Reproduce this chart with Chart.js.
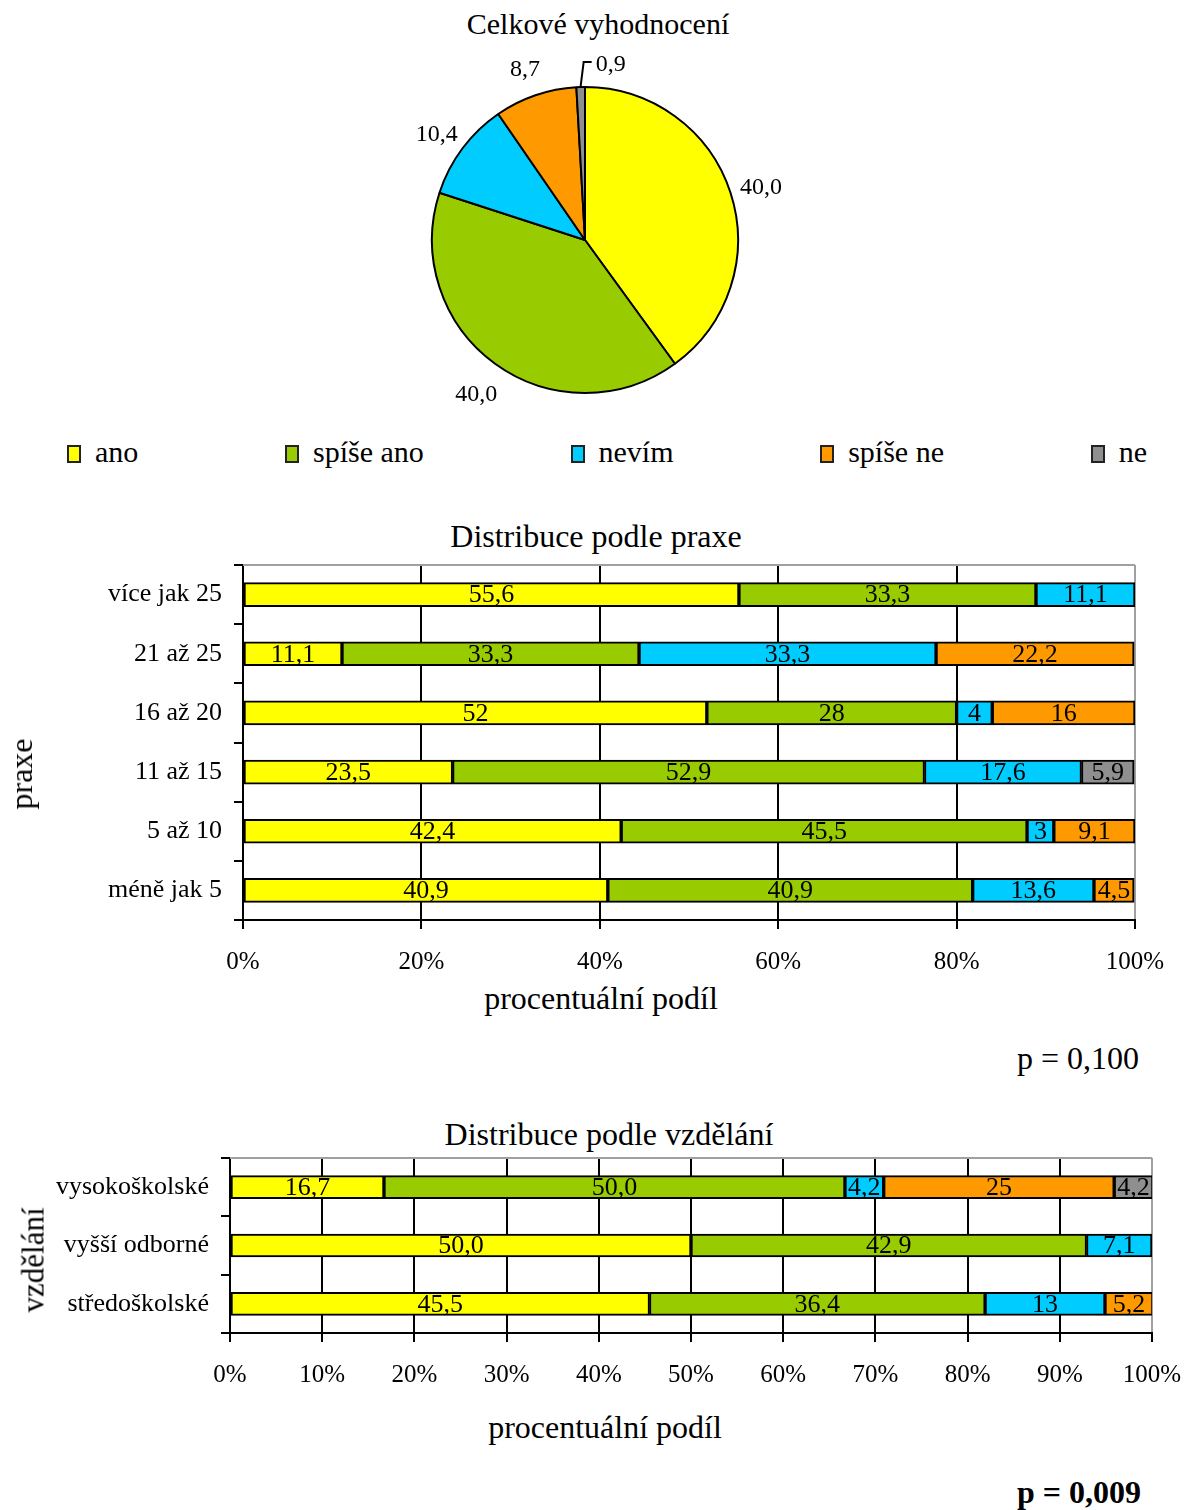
<!DOCTYPE html>
<html>
<head>
<meta charset="utf-8">
<script src="https://cdn.jsdelivr.net/npm/chart.js@4.4.1/dist/chart.umd.min.js"></script>
<style>
  body { margin: 0; background: #fff; }
  #page { position: relative; width: 1185px; height: 1510px; font-family: 'Liberation Serif', 'Times New Roman', serif; color: #000; }
  canvas { position: absolute; }
  .txt { position: absolute; transform: translate(-50%, -50%); white-space: nowrap; line-height: 1; }
  .rot { transform: translate(-50%, -50%) rotate(-90deg); }
  .right { transform: translate(-100%, -50%); }
  #legend { position: absolute; left: 67px; top: 436px; width: 1080px; display: flex; justify-content: space-between; font-size: 30px; line-height: 32px; }
  #legend span.box { display: inline-block; width: 14px; height: 18px; border: 2px solid #222; margin-right: 14px; vertical-align: -1px; box-sizing: border-box; }
</style>
</head>
<body>
<div id="page">
  <div class="txt" style="left:598px; top:24px; font-size:30px;">Celkové vyhodnocení</div>
  <canvas id="pie" width="600" height="420" style="left:285px; top:0;"></canvas>
  <div id="legend"></div>

  <div class="txt" style="left:596px; top:536px; font-size:32px;">Distribuce podle praxe</div>
  <canvas id="praxe" width="1185" height="480" style="left:0; top:500px;"></canvas>
  <div class="txt rot" style="left:21px; top:774px; font-size:32px;">praxe</div>
  <div class="txt" style="left:601px; top:998px; font-size:32px;">procentuální podíl</div>
  <div class="txt right" style="left:1139px; top:1058px; font-size:32px;">p = 0,100</div>

  <div class="txt" style="left:609px; top:1134px; font-size:32px;">Distribuce podle vzdělání</div>
  <canvas id="vzdelani" width="1185" height="300" style="left:0; top:1100px;"></canvas>
  <div class="txt rot" style="left:33px; top:1260px; font-size:31px;">vzdělání</div>
  <div class="txt" style="left:605px; top:1427px; font-size:32px;">procentuální podíl</div>
  <div class="txt right" style="left:1141px; top:1492px; font-size:32px; font-weight:bold;">p = 0,009</div>
</div>
<script>
// answers and colours shared by all three charts
const series = ['ano', 'spíše ano', 'nevím', 'spíše ne', 'ne'];
const colors = ['#ffff00', '#99cc00', '#00ccff', '#ff9900', '#8f8f8f'];

// overall pie
const overall = [40.0, 40.0, 10.4, 8.7, 0.9];

// by years of practice
const praxeCategories = ['více jak 25', '21 až 25', '16 až 20', '11 až 15', '5 až 10', 'méně jak 5'];
const praxeAno = [55.6, 11.1, 52, 23.5, 42.4, 40.9];
const praxeSpiseAno = [33.3, 33.3, 28, 52.9, 45.5, 40.9];
const praxeNevim = [11.1, 33.3, 4, 17.6, 3, 13.6];
const praxeSpiseNe = [0, 22.2, 16, 0, 9.1, 4.5];
const praxeNe = [0, 0, 0, 5.9, 0, 0];

// by education
const vzdelaniCategories = ['vysokoškolské', 'vyšší odborné', 'středoškolské'];
const vzdelaniAno = [16.7, 50.0, 45.5];
const vzdelaniSpiseAno = [50.0, 42.9, 36.4];
const vzdelaniNevim = [4.2, 7.1, 13];
const vzdelaniSpiseNe = [25, 0, 5.2];
const vzdelaniNe = [4.2, 0, 0];

// number of decimals shown per series (null = as is)
const praxeDecimals = [null, null, null, null, null];
const vzdelaniDecimals = [1, 1, null, null, null];

const FONT = "'Liberation Serif', 'Times New Roman', serif";
Chart.defaults.font.family = FONT;
Chart.defaults.color = '#000';
Chart.defaults.animation = false;

function fmt(v, decimals) {
    const s = decimals == null ? String(v) : v.toFixed(decimals);
    return s.replace('.', ',');
}

// legend
const legend = document.getElementById('legend');
series.forEach((name, i) => {
    const item = document.createElement('div');
    item.innerHTML = '<span class="box" style="background:' + colors[i] + '"></span>' + name;
    legend.appendChild(item);
});

// value labels inside bar segments
const barLabels = {
    id: 'barLabels',
    afterDatasetsDraw(chart) {
        const ctx = chart.ctx;
        ctx.save();
        ctx.font = '26px ' + FONT;
        ctx.fillStyle = '#000';
        ctx.textAlign = 'center';
        ctx.textBaseline = 'middle';
        chart.data.datasets.forEach((ds, i) => {
            chart.getDatasetMeta(i).data.forEach((el, j) => {
                const v = ds.data[j];
                if (!v) return;
                const p = el.getProps(['x', 'y', 'base'], true);
                ctx.fillText(fmt(v, ds.decimals), (p.x + p.base) / 2, p.y + 1);
            });
        });
        ctx.restore();
    }
};

// grey frame line on top of the plot area
const topFrame = {
    id: 'topFrame',
    afterDraw(chart) {
        const a = chart.chartArea, ctx = chart.ctx;
        ctx.save();
        ctx.strokeStyle = '#a0a0a0';
        ctx.lineWidth = 2;
        ctx.beginPath();
        ctx.moveTo(a.left, a.top);
        ctx.lineTo(a.right, a.top);
        ctx.stroke();
        ctx.restore();
    }
};

function makeBarChart(id, categories, data, decimals, o) {
    new Chart(document.getElementById(id), {
        type: 'bar',
        data: {
            labels: categories,
            datasets: data.map((d, i) => ({
                label: series[i],
                data: d,
                decimals: decimals[i],
                backgroundColor: colors[i],
                borderColor: '#000',
                borderWidth: 2,
                borderSkipped: false,
                barThickness: o.thickness
            }))
        },
        options: {
            indexAxis: 'y',
            responsive: false,
            layout: { padding: o.padding },
            plugins: { legend: { display: false }, tooltip: { enabled: false } },
            scales: {
                x: {
                    stacked: true,
                    min: 0,
                    max: 100,
                    afterFit: s => { s.height = o.xHeight; s.paddingLeft = 0; s.paddingRight = 0; },
                    ticks: { stepSize: o.step, font: { size: 25 }, padding: o.tickPad, callback: v => v + '%' },
                    grid: {
                        color: c => (c.tick && c.tick.value === 100) ? '#a0a0a0' : '#000',
                        tickColor: '#000',
                        lineWidth: 2,
                        tickLength: 9
                    },
                    border: { color: '#000', width: 2 }
                },
                y: {
                    stacked: true,
                    afterFit: s => { s.width = o.yWidth; },
                    ticks: { font: { size: 26 }, padding: 12 },
                    grid: { drawOnChartArea: false, color: '#000', lineWidth: 2, tickLength: 9 },
                    border: { color: '#000', width: 2 }
                }
            }
        },
        plugins: [barLabels, topFrame]
    });
}

makeBarChart('praxe', praxeCategories,
    [praxeAno, praxeSpiseAno, praxeNevim, praxeSpiseNe, praxeNe], praxeDecimals,
    { thickness: 24, step: 20, yWidth: 243, xHeight: 60, tickPad: 18, padding: { left: 0, right: 50, top: 65, bottom: 0 } });

makeBarChart('vzdelani', vzdelaniCategories,
    [vzdelaniAno, vzdelaniSpiseAno, vzdelaniNevim, vzdelaniSpiseNe, vzdelaniNe], vzdelaniDecimals,
    { thickness: 23, step: 10, yWidth: 230, xHeight: 67, tickPad: 18, padding: { left: 0, right: 33, top: 58, bottom: 0 } });

// labels around the pie
const pieLabels = {
    id: 'pieLabels',
    afterDatasetsDraw(chart) {
        const ctx = chart.ctx;
        const ds = chart.data.datasets[0];
        ctx.save();
        ctx.font = '24px ' + FONT;
        ctx.fillStyle = '#000';
        ctx.strokeStyle = '#000';
        ctx.lineWidth = 2;
        ctx.textBaseline = 'middle';
        chart.getDatasetMeta(0).data.forEach((el, i) => {
            const p = el.getProps(['x', 'y', 'startAngle', 'endAngle', 'outerRadius'], true);
            const mid = (p.startAngle + p.endAngle) / 2;
            const text = fmt(ds.data[i], 1);
            if (ds.data[i] < 2) {
                const x0 = p.x + Math.cos(mid) * (p.outerRadius + 1);
                const y0 = p.y + Math.sin(mid) * (p.outerRadius + 1);
                ctx.beginPath();
                ctx.moveTo(x0, y0);
                ctx.lineTo(x0 + 3, y0 - 24);
                ctx.lineTo(x0 + 11, y0 - 24);
                ctx.stroke();
                ctx.textAlign = 'left';
                ctx.fillText(text, x0 + 15, y0 - 21);
            } else {
                const r = p.outerRadius + 32;
                ctx.textAlign = 'center';
                ctx.fillText(text, p.x + Math.cos(mid) * r, p.y + Math.sin(mid) * r + 5);
            }
        });
        ctx.restore();
    }
};

new Chart(document.getElementById('pie'), {
    type: 'pie',
    data: {
        labels: series,
        datasets: [{
            data: overall,
            backgroundColor: colors,
            borderColor: '#000',
            borderWidth: 2
        }]
    },
    options: {
        responsive: false,
        layout: { padding: { left: 146, right: 146, top: 86, bottom: 26 } },
        plugins: { legend: { display: false }, tooltip: { enabled: false } }
    },
    plugins: [pieLabels]
});
</script>
</body>
</html>
